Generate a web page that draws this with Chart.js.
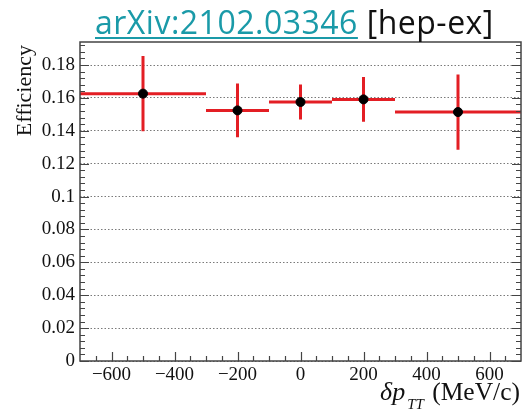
<!DOCTYPE html>
<html>
<head>
<meta charset="utf-8">
<script src="https://cdn.jsdelivr.net/npm/chart.js@4.4.0/dist/chart.umd.min.js"></script>
<style>
  html, body { margin: 0; padding: 0; background: #fff; }
  #wrap { position: relative; width: 522px; height: 417px; }
  #title {
    position: absolute; left: 95px; top: 0px;
    font-family: "Open Sans", sans-serif; font-size: 32px; font-weight: 400;
    color: #111; white-space: nowrap; letter-spacing: 0.5px;
  }
  #title a { color: #1a9aa8; text-decoration: underline; text-decoration-thickness: 2px; text-underline-offset: 3px; }
</style>
</head>
<body>
<div id="wrap">
  <canvas id="chart" width="522" height="417"></canvas>
  <div id="title"><a href="#">arXiv:2102.03346</a> [hep-ex]</div>
</div>
<script>
// bins in delta p_TT (MeV/c)
const binCenters = [-500, -200, 0, 200, 500];
const binLow = [-700, -300, -100, 100, 300];
const binHigh = [-300, -100, 100, 300, 700];
// efficiency and its error
const efficiency = [0.1626, 0.1524, 0.1575, 0.1591, 0.1514];
const effError = [0.0229, 0.0163, 0.0107, 0.0136, 0.0229];
// axis ticks
const yTicks = [0, 0.02, 0.04, 0.06, 0.08, 0.1, 0.12, 0.14, 0.16, 0.18];
const xTicks = [-600, -400, -200, 0, 200, 400, 600];

const RED = '#e31e24';
const SERIF = '"Liberation Serif", "DejaVu Serif", serif';

// error bars drawn under the markers
const errorBars = {
  id: 'errorBars',
  beforeDatasetsDraw(chart) {
    const { ctx, scales: { x, y } } = chart;
    ctx.save();
    ctx.strokeStyle = RED;
    ctx.lineWidth = 3;
    binCenters.forEach((c, i) => {
      const yv = y.getPixelForValue(efficiency[i]);
      ctx.beginPath();
      ctx.moveTo(x.getPixelForValue(binLow[i]), yv);
      ctx.lineTo(x.getPixelForValue(binHigh[i]), yv);
      ctx.moveTo(x.getPixelForValue(c), y.getPixelForValue(efficiency[i] + effError[i]));
      ctx.lineTo(x.getPixelForValue(c), y.getPixelForValue(efficiency[i] - effError[i]));
      ctx.stroke();
    });
    ctx.restore();
  }
};

// ROOT-style frame with inside ticks, plus axis titles
const frameAndTitles = {
  id: 'frameAndTitles',
  afterDatasetsDraw(chart) {
    const { ctx, chartArea: a, scales: { x, y } } = chart;
    ctx.save();
    ctx.strokeStyle = '#444';
    ctx.lineWidth = 1.5;
    ctx.strokeRect(a.left, a.top, a.right - a.left, a.bottom - a.top);

    ctx.lineWidth = 1.2;
    ctx.beginPath();
    // y ticks, left and right
    for (let v = 0; v <= y.max + 1e-9; v += 0.004) {
      const major = Math.abs(v / 0.02 - Math.round(v / 0.02)) < 1e-6;
      const len = major ? 9 : 5;
      const py = Math.round(y.getPixelForValue(v)) + 0.5;
      ctx.moveTo(a.left, py); ctx.lineTo(a.left + len, py);
      ctx.moveTo(a.right, py); ctx.lineTo(a.right - len, py);
    }
    // x ticks, bottom only
    for (let v = -650; v <= 650; v += 50) {
      const len = v % 200 === 0 ? 9 : 5;
      const px = Math.round(x.getPixelForValue(v)) + 0.5;
      ctx.moveTo(px, a.bottom); ctx.lineTo(px, a.bottom - len);
    }
    ctx.stroke();

    // y title
    ctx.fillStyle = '#111';
    ctx.save();
    ctx.translate(31, a.top + 3);
    ctx.rotate(-Math.PI / 2);
    ctx.font = '22px ' + SERIF;
    ctx.textAlign = 'right';
    ctx.textBaseline = 'alphabetic';
    ctx.fillText('Efficiency', 0, 0);
    ctx.restore();

    // x title: δp_TT (MeV/c)
    ctx.textBaseline = 'alphabetic';
    ctx.textAlign = 'right';
    ctx.font = '25.5px ' + SERIF;
    const unit = ' (MeV/c)';
    const xEnd = a.right - 1;
    ctx.fillText(unit, xEnd, 400);
    const uw = ctx.measureText(unit).width;
    ctx.font = 'italic 15px ' + SERIF;
    const sub = 'TT';
    const sw = ctx.measureText(sub).width;
    ctx.fillText(sub, xEnd - uw - 2, 409);
    ctx.font = 'italic 26px ' + SERIF;
    ctx.fillText('δp', xEnd - uw - sw - 4, 400);
    ctx.restore();
  }
};

const ctx = document.getElementById('chart').getContext('2d');
new Chart(ctx, {
  type: 'scatter',
  data: {
    datasets: [{
      data: binCenters.map((c, i) => ({ x: c, y: efficiency[i] })),
      backgroundColor: '#000',
      borderColor: '#000',
      pointRadius: 4.5,
      pointHoverRadius: 4.5
    }]
  },
  options: {
    responsive: false,
    animation: false,
    layout: { autoPadding: false, padding: { top: 42, right: 1, left: 0, bottom: 0 } },
    plugins: { legend: { display: false }, tooltip: { enabled: false } },
    scales: {
      x: {
        type: 'linear',
        min: -700,
        max: 700,
        afterFit: s => { s.height = 56; s.paddingLeft = 0; s.paddingRight = 0; },
        afterBuildTicks: s => { s.ticks = xTicks.map(v => ({ value: v })); },
        grid: { display: false, drawTicks: false },
        border: { display: false },
        ticks: {
          padding: 3,
          color: '#111',
          font: { family: SERIF, size: 19 },
          callback: v => String(v).replace('-', '\u2212')
        }
      },
      y: {
        min: 0,
        max: 0.194,
        afterFit: s => { s.width = 80; s.paddingTop = 0; s.paddingBottom = 0; },
        afterBuildTicks: s => { s.ticks = yTicks.map(v => ({ value: v })); },
        grid: { color: '#7a7a7a', lineWidth: 1, drawTicks: false },
        border: { display: false, dash: [1.5, 2] },
        ticks: {
          padding: 5,
          color: '#111',
          font: { family: SERIF, size: 19 },
          callback: v => String(+v.toFixed(2))
        }
      }
    }
  },
  plugins: [errorBars, frameAndTitles]
});
</script>
</body>
</html>
